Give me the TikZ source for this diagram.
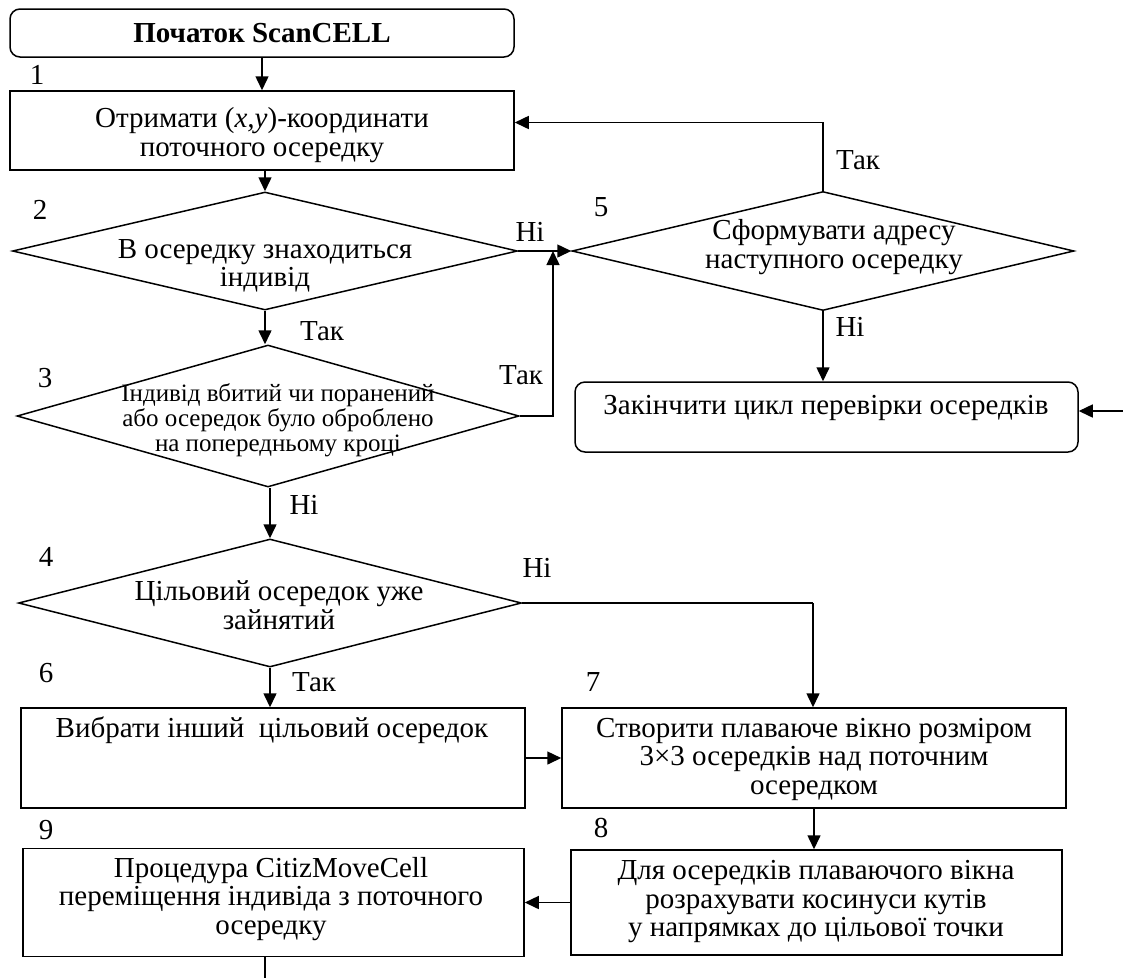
\documentclass[tikz,border=0pt]{standalone}
\usepackage{fontspec}
\setmainfont{Liberation Serif}
\usetikzlibrary{shapes.geometric,arrows.meta,calc}
\begin{document}
\begin{tikzpicture}[x=1pt,y=-1pt,
  lw/.style={line width=1.5pt},
  blk/.style={draw,lw,rectangle,inner sep=0pt},
  rblk/.style={blk,rounded corners=10pt},
  dia/.style={draw,lw,diamond,inner sep=0pt},
  txt/.style={align=center,inner sep=0pt,font=\fontsize{29}{28.5}\selectfont},
  stxt/.style={align=center,inner sep=0pt,font=\fontsize{25}{25}\selectfont},
  lbl/.style={inner sep=0pt,font=\fontsize{29}{30}\selectfont},
  arr/.style={lw,-{Triangle[length=14pt,width=13pt]}},
  ln/.style={lw}
]
\useasboundingbox (0,0) rectangle (1123,978);

% blocks
\node[rblk,minimum width=504pt,minimum height=48pt] (start) at (262,33) {};
\node[txt,font=\bfseries\fontsize{29}{30}\selectfont] (tstart) at (start) {Початок ScanCELL};

\node[blk,minimum width=504pt,minimum height=79pt] (b1) at (262,130.5) {};
\node[txt] (tb1) at (262,135) {Отримати (\textit{x,y})-координати\\поточного осередку};

\node[dia,minimum width=505pt,minimum height=118pt] (d2) at (265,251) {};
\node[txt] (td2) at (265,266) {В осередку знаходиться\\індивід};

\node[dia,minimum width=502pt,minimum height=119pt] (d5) at (823,251) {};
\node[txt] (td5) at (834,247) {Сформувати адресу\\наступного осередку};

\node[rblk,minimum width=503pt,minimum height=70pt] (endb) at (826.5,417) {};
\node[txt] (tend) at (826,408) {Закінчити цикл перевірки осередків};

\node[dia,minimum width=502pt,minimum height=142pt] (d3) at (268,416) {};
\node[stxt] (td3) at (278,420) {Індивід вбитий чи поранений\\або осередок було оброблено\\на попередньому кроці};

\node[dia,minimum width=503pt,minimum height=128pt] (d4) at (270,603) {};
\node[txt] (td4) at (279,605) {Цільовий осередок уже\\зайнятий};

\node[blk,minimum width=504pt,minimum height=100pt] (b6) at (273,758) {};
\node[txt] (tb6) at (272,730) {Вибрати інший\ \ цільовий осередок};

\node[blk,minimum width=504pt,minimum height=100pt] (b7) at (814,758) {};
\node[txt] (tb7) at (814,759) {Створити плаваюче вікно розміром\\3×3 осередків над поточним\\осередком};

\node[blk,minimum width=491pt,minimum height=105pt] (b8) at (816.5,902.5) {};
\node[txt] (tb8) at (816,902) {Для осередків плаваючого вікна\\розрахувати косинуси кутів\\у напрямках до цільової точки};

\node[blk,minimum width=501pt,minimum height=108pt] (b9) at (273.5,902.5) {};
\node[txt] (tb9) at (271,899) {Процедура CitizMoveCell\\переміщення індивіда з поточного\\осередку};

% numbers
\node[lbl] (n1) at (37,75) {1};
\node[lbl] (n2) at (40,210) {2};
\node[lbl] (n3) at (45,378) {3};
\node[lbl] (n4) at (46,557) {4};
\node[lbl] (n5) at (601,207) {5};
\node[lbl] (n6) at (46,673) {6};
\node[lbl] (n7) at (593,682) {7};
\node[lbl] (n8) at (601,828) {8};
\node[lbl] (n9) at (46,830) {9};

% branch labels
\node[lbl] (l2n) at (530,232) {Ні};
\node[lbl] (l2y) at (322,331) {Так};
\node[lbl] (l3y) at (521,375) {Так};
\node[lbl] (l3n) at (304,505) {Ні};
\node[lbl] (l4n) at (537,568) {Ні};
\node[lbl] (l4y) at (314,682) {Так};
\node[lbl] (l5y) at (858,160) {Так};
\node[lbl] (l5n) at (850,327) {Ні};

% helper coordinates
\coordinate (j) at (553,251);
\coordinate (rin) at (1123,411);
\coordinate (c47) at (813,603);
\coordinate (bot) at (265,978);

% connectors
\draw[arr] (start.south) -- (b1.north);
\draw[arr] (d2.north |- b1.south) -- (d2.north);
\draw[arr] (d2.south) -- (d2.south |- d3.north);
\draw[arr] (d4.north |- d3.south) -- (d4.north);
\draw[arr] (d4.south) -- (d4.south |- b6.north);
\draw[arr] (d2.east) -- (d5.west);
\draw[arr] (d3.east) -| (j);
\draw[arr] (d5.north) |- ($(b1.east)+(0,-8)$);
\draw[arr] (d5.south) -- (d5.south |- endb.north);
\draw[arr] (rin) -- (rin -| endb.east);
\draw[ln] (d4.east) -- (c47);
\draw[arr] (c47) -- (c47 |- b7.north);
\draw[arr] (b6.east) -- (b7.west);
\draw[arr] (b7.south) -- (b7.south |- b8.north);
\draw[arr] (b8.west) -- (b8.west -| b9.east);
\draw[ln] (bot |- b9.south) -- (bot);
\end{tikzpicture}
\end{document}
